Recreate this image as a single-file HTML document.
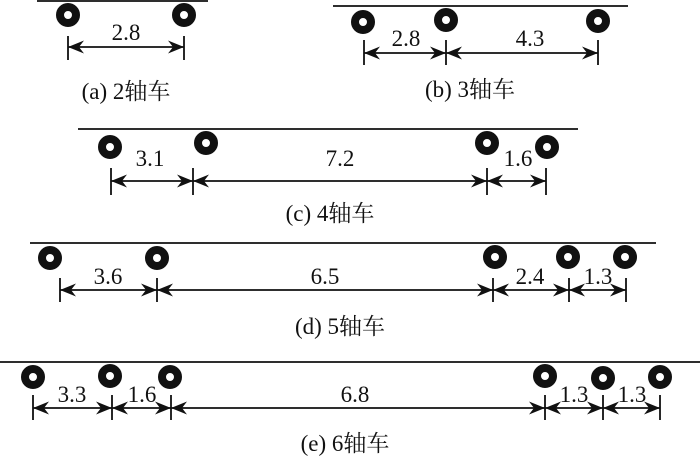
<!DOCTYPE html>
<html><head><meta charset="utf-8"><style>
html,body{margin:0;padding:0;background:#fff;}
svg{display:block;}
text{font-family:"Liberation Serif","Noto Serif CJK SC","Noto Sans CJK SC",serif;fill:#111;}
.n{font-size:23px;text-anchor:middle;}
.c{font-size:23px;text-anchor:middle;}
</style></head><body>
<svg width="700" height="459" viewBox="0 0 700 459" xmlns="http://www.w3.org/2000/svg">
<defs>
<marker id="ae" markerWidth="18" markerHeight="14" refX="16" refY="7" orient="auto" markerUnits="userSpaceOnUse">
<path d="M0,0.5 L16,7 L0,13.5 L5,7 Z" fill="#111"/></marker>
<marker id="as" markerWidth="18" markerHeight="14" refX="1" refY="7" orient="auto" markerUnits="userSpaceOnUse">
<path d="M17,0.5 L1,7 L17,13.5 L12,7 Z" fill="#111"/></marker>
<g id="w"><circle r="8" fill="none" stroke="#111" stroke-width="8"/></g>
</defs>
<g stroke="#111" stroke-width="1.8" fill="none">
<line x1="37" y1="1" x2="208" y2="1"/>
<line x1="68" y1="36" x2="68" y2="60"/><line x1="184" y1="36" x2="184" y2="60"/>
<line x1="68" y1="47" x2="184" y2="47" marker-start="url(#as)" marker-end="url(#ae)"/>
<line x1="333" y1="6" x2="628" y2="6"/>
<line x1="364" y1="40" x2="364" y2="65"/><line x1="446" y1="40" x2="446" y2="65"/><line x1="598" y1="40" x2="598" y2="65"/>
<line x1="364" y1="53" x2="446" y2="53" marker-start="url(#as)" marker-end="url(#ae)"/>
<line x1="446" y1="53" x2="598" y2="53" marker-start="url(#as)" marker-end="url(#ae)"/>
<line x1="78" y1="129" x2="578" y2="129"/>
<line x1="111" y1="168" x2="111" y2="195"/><line x1="193" y1="168" x2="193" y2="195"/><line x1="487" y1="168" x2="487" y2="195"/><line x1="546" y1="168" x2="546" y2="195"/>
<line x1="111" y1="181" x2="193" y2="181" marker-start="url(#as)" marker-end="url(#ae)"/>
<line x1="193" y1="181" x2="487" y2="181" marker-start="url(#as)" marker-end="url(#ae)"/>
<line x1="487" y1="181" x2="546" y2="181" marker-start="url(#as)" marker-end="url(#ae)"/>
<line x1="30" y1="243" x2="656" y2="243"/>
<line x1="60" y1="278" x2="60" y2="302"/><line x1="157" y1="278" x2="157" y2="302"/><line x1="493" y1="278" x2="493" y2="302"/><line x1="569" y1="278" x2="569" y2="302"/><line x1="626" y1="278" x2="626" y2="302"/>
<line x1="60" y1="290" x2="157" y2="290" marker-start="url(#as)" marker-end="url(#ae)"/>
<line x1="157" y1="290" x2="493" y2="290" marker-start="url(#as)" marker-end="url(#ae)"/>
<line x1="493" y1="290" x2="569" y2="290" marker-start="url(#as)" marker-end="url(#ae)"/>
<line x1="569" y1="290" x2="626" y2="290" marker-start="url(#as)" marker-end="url(#ae)"/>
<line x1="0" y1="362" x2="700" y2="362"/>
<line x1="33" y1="395" x2="33" y2="420"/><line x1="112" y1="395" x2="112" y2="420"/><line x1="171" y1="395" x2="171" y2="420"/><line x1="545" y1="395" x2="545" y2="420"/><line x1="603" y1="395" x2="603" y2="420"/><line x1="660" y1="395" x2="660" y2="420"/>
<line x1="33" y1="408" x2="112" y2="408" marker-start="url(#as)" marker-end="url(#ae)"/>
<line x1="112" y1="408" x2="171" y2="408" marker-start="url(#as)" marker-end="url(#ae)"/>
<line x1="171" y1="408" x2="545" y2="408" marker-start="url(#as)" marker-end="url(#ae)"/>
<line x1="545" y1="408" x2="603" y2="408" marker-start="url(#as)" marker-end="url(#ae)"/>
<line x1="603" y1="408" x2="660" y2="408" marker-start="url(#as)" marker-end="url(#ae)"/>
</g>
<g>
<use href="#w" x="68" y="15"/><use href="#w" x="184" y="15"/>
<use href="#w" x="363" y="22"/><use href="#w" x="446" y="20"/><use href="#w" x="598" y="21"/>
<use href="#w" x="110" y="147"/><use href="#w" x="206" y="143"/><use href="#w" x="487" y="143"/><use href="#w" x="547" y="147"/>
<use href="#w" x="50" y="258"/><use href="#w" x="157" y="258"/><use href="#w" x="495" y="257"/><use href="#w" x="568" y="257"/><use href="#w" x="625" y="257"/>
<use href="#w" x="33" y="377"/><use href="#w" x="110" y="376"/><use href="#w" x="170" y="377"/><use href="#w" x="545" y="376"/><use href="#w" x="603" y="378"/><use href="#w" x="660" y="377"/>
</g>
<text class="n" x="126" y="40">2.8</text>
<text class="c" x="126" y="99">(a) 2轴车</text>
<text class="n" x="406" y="46">2.8</text><text class="n" x="530" y="46">4.3</text>
<text class="c" x="470" y="97">(b) 3轴车</text>
<text class="n" x="150" y="166">3.1</text><text class="n" x="340" y="166">7.2</text><text class="n" x="518" y="166">1.6</text>
<text class="c" x="330" y="221">(c) 4轴车</text>
<text class="n" x="108" y="284">3.6</text><text class="n" x="325" y="284">6.5</text><text class="n" x="530" y="284">2.4</text><text class="n" x="598" y="284">1.3</text>
<text class="c" x="340" y="334">(d) 5轴车</text>
<text class="n" x="72" y="402">3.3</text><text class="n" x="142" y="402">1.6</text><text class="n" x="355" y="402">6.8</text><text class="n" x="574" y="402">1.3</text><text class="n" x="632" y="402">1.3</text>
<text class="c" x="345" y="451">(e) 6轴车</text>
</svg>
</body></html>
